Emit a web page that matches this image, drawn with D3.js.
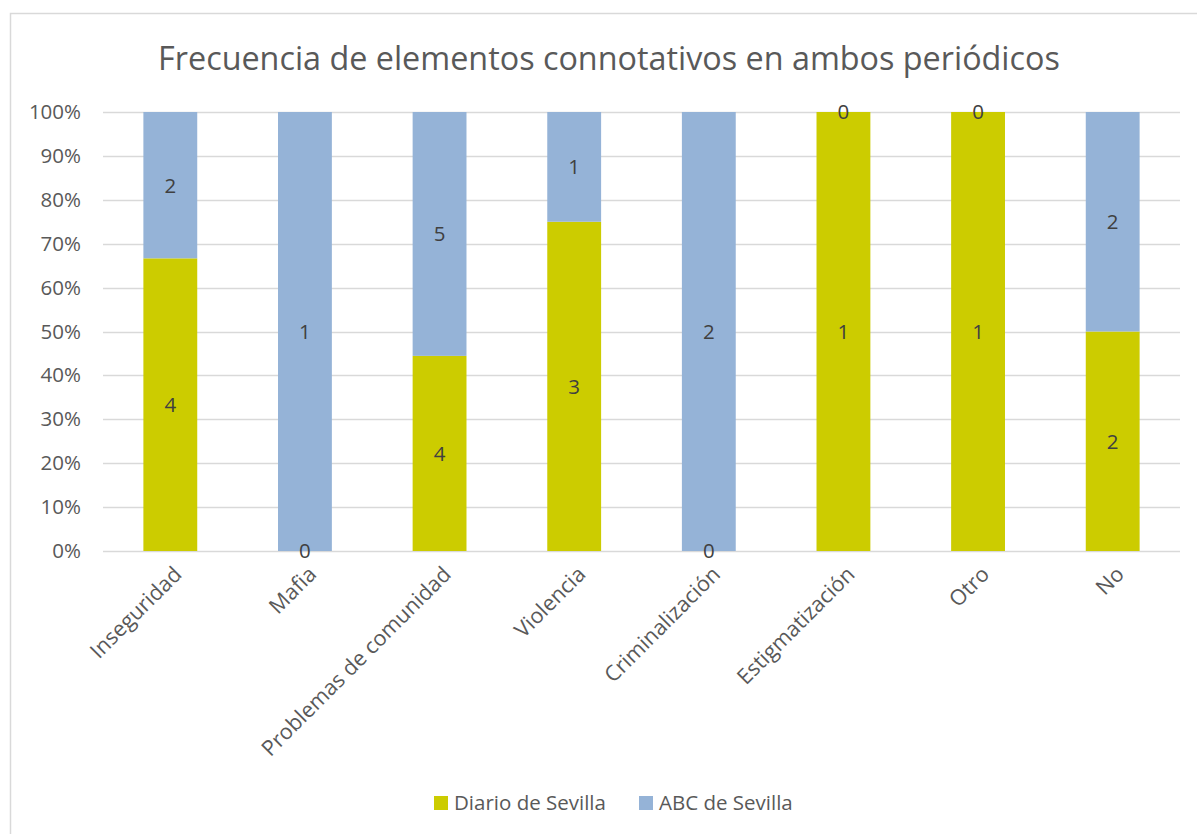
<!DOCTYPE html>
<html><head><meta charset="utf-8">
<script src="https://cdn.jsdelivr.net/npm/d3@7"></script>
<style>body{margin:0;background:#fff}svg{display:block}text{font-family:"Open Sans",sans-serif}</style>
</head><body>
<svg id="c" width="1197" height="834"></svg>
<script>
const categories = ["Inseguridad","Mafia","Problemas de comunidad","Violencia","Criminalización","Estigmatización","Otro","No"];
const diario = [4,0,4,3,0,1,1,2];
const abc = [2,1,5,1,2,0,0,2];
const seriesNames = ["Diario de Sevilla","ABC de Sevilla"];
const seriesColors = ["#CCCC00","#95B3D7"];
const yTicks = [0,0.1,0.2,0.3,0.4,0.5,0.6,0.7,0.8,0.9,1];
const title = "Frecuencia de elementos connotativos en ambos periódicos";

const svg = d3.select("#c");
// chart border
svg.append("rect").attr("x",10.5).attr("y",13.5).attr("width",1200).attr("height",840)
  .attr("fill","none").attr("stroke","#d9d9d9").attr("stroke-width",1.5);

const x = d3.scaleBand().domain(categories).range([103,1180]).paddingInner(0.6).paddingOuter(0.3);
const y = d3.scaleLinear().domain([0,1]).range([551,112]);

// title
const t = svg.append("text").attr("x",609).attr("y",70).attr("text-anchor","middle")
  .attr("fill","#595959").style("font-size","30px").text(title);
const tw = t.node().getComputedTextLength();
t.style("font-size",(30*902/tw)+"px");

// gridlines
svg.append("g").selectAll("line").data(yTicks).join("line")
  .attr("x1",103).attr("x2",1180).attr("y1",d=>Math.round(y(d))+0.5).attr("y2",d=>Math.round(y(d))+0.5)
  .attr("stroke","#d9d9d9").attr("stroke-width",1.5);

// y axis labels
const yAxis = d3.axisLeft(y).tickValues(yTicks).tickFormat(d3.format(".0%")).tickSize(0).tickPadding(0);
const ya = svg.append("g").attr("transform","translate(81,0)").call(yAxis);
ya.select(".domain").remove();
ya.selectAll("text").attr("fill","#595959").style("font-size","20.5px").style("font-family","'Open Sans',sans-serif");

// stacks
const rows = categories.map((c,i)=>({cat:c, d:diario[i], a:abc[i]}));
const stack = d3.stack().keys(["d","a"]).offset(d3.stackOffsetExpand);
const layers = stack(rows);
const g = svg.append("g");
layers.forEach((layer,li)=>{
  g.append("g").selectAll("rect").data(layer).join("rect")
    .attr("x",d=>x(d.data.cat)).attr("width",x.bandwidth())
    .attr("y",d=>y(d[1])).attr("height",d=>y(d[0])-y(d[1]))
    .attr("fill",seriesColors[li]);
});
layers.forEach((layer,li)=>{
  const key = layer.key;
  g.append("g").selectAll("text").data(layer).join("text")
    .attr("x",d=>x(d.data.cat)+x.bandwidth()/2)
    .attr("y",d=>(y(d[0])+y(d[1]))/2)
    .attr("dy","0.36em")
    .attr("text-anchor","middle").attr("fill","#404040").style("font-size","20.5px")
    .text(d=>d.data[key]);
});

// category labels
svg.append("g").selectAll("text").data(categories).join("text")
  .attr("transform",d=>`translate(${x(d)+x.bandwidth()/2+2},${565}) rotate(-45)`)
  .attr("text-anchor","end").attr("dy","0.7em").attr("fill","#595959").style("font-size","21.5px")
  .text(d=>d);

// legend
const leg = svg.append("g");
const legX = [434,639];
seriesNames.forEach((s,i)=>{
  leg.append("rect").attr("x",legX[i]).attr("y",796).attr("width",14).attr("height",14).attr("fill",seriesColors[i]);
  leg.append("text").attr("x",legX[i]+20).attr("y",810).attr("fill","#595959").style("font-size","20.5px").text(s);
});
</script>
</body></html>
